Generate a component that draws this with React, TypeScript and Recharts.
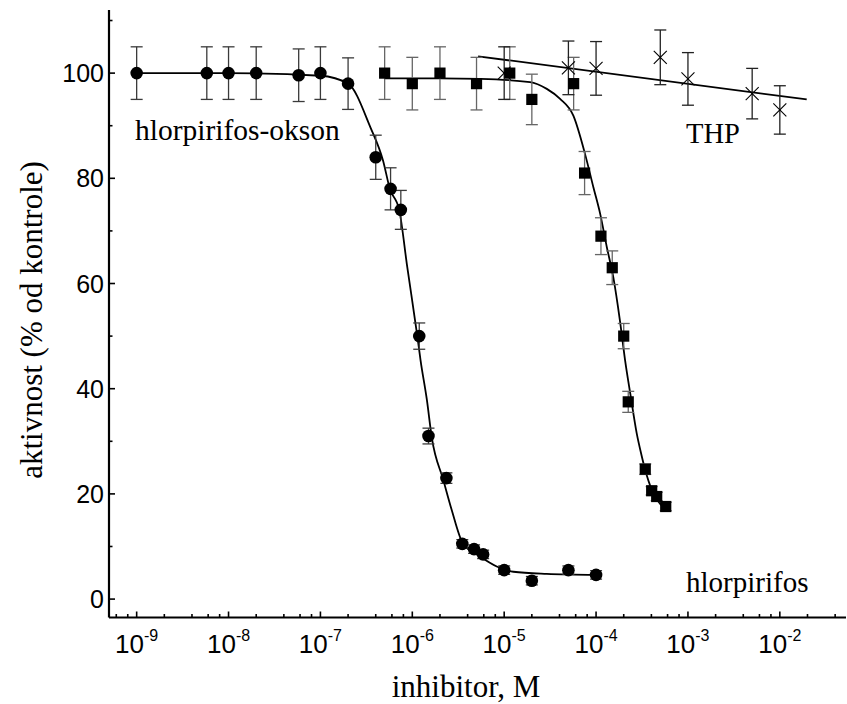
import React from "react";
import { ComposedChart, Scatter, Line, XAxis, YAxis, ErrorBar } from "recharts";

// hlorpirifos-okson (circles)
const oksonX = [1e-9, 5.8e-9, 1e-8, 2e-8, 5.8e-8, 1e-7, 2e-7, 4e-7, 5.8e-7, 7.5e-7, 1.19e-6, 1.5e-6, 2.35e-6, 3.5e-6, 4.7e-6, 5.9e-6, 1e-5, 2e-5, 5e-5, 1e-4];
const oksonY = [100, 100, 100, 100, 99.6, 100, 98, 84, 78, 74, 50, 31, 23, 10.5, 9.5, 8.5, 5.5, 3.5, 5.5, 4.6];
const oksonErr = [5, 5, 5, 5, 5, 5, 4.9, 4.2, 4, 3.7, 2.5, 1.5, 1, 0.8, 0.8, 0.8, 0.8, 0.8, 0.8, 0.8];

// hlorpirifos (squares)
const hlorX = [5e-7, 1e-6, 2e-6, 5e-6, 1.15e-5, 2e-5, 5.7e-5, 7.5e-5, 1.13e-4, 1.5e-4, 2e-4, 2.24e-4, 3.43e-4, 4.03e-4, 4.57e-4, 5.73e-4];
const hlorY = [100, 98, 100, 98, 100, 95, 98, 81, 69, 63, 50, 37.5, 24.7, 20.6, 19.5, 17.6];
const hlorErr = [5, 5, 5, 5, 5, 4.8, 5, 4.1, 3.5, 3.2, 2.4, 2, 1, 0.8, 0.8, 0.8];

// THP (crosses)
const thpX = [1e-5, 5e-5, 1e-4, 5e-4, 1e-3, 5e-3, 1e-2];
const thpY = [100, 101, 100.9, 103, 98.9, 96.1, 93];
const thpErr = [5, 5.1, 5.1, 5.2, 5, 4.8, 4.6];

// fitted curves
const oksonFitX = [1e-9, 1e-8, 1e-7, 2e-7, 3.5e-7, 4.8e-7, 5.7e-7, 7.2e-7, 8.8e-7, 1.14e-6, 1.23e-6, 1.44e-6, 1.63e-6, 2.18e-6, 2.69e-6, 3.55e-6, 5.47e-6, 8.3e-6, 1.26e-5, 2.9e-5, 1e-4];
const oksonFitY = [100, 100, 99.5, 98, 89.7, 83.4, 78, 74, 63.2, 49.7, 45.4, 37.9, 30.7, 22.6, 16.9, 10.6, 8.1, 6.2, 5.2, 4.8, 4.6];

const hlorFitX = [5e-7, 2e-6, 5.5e-6, 1.91e-5, 2.91e-5, 4.06e-5, 5.66e-5, 7.59e-5, 9.35e-5, 1.11e-4, 1.31e-4, 1.54e-4, 1.82e-4, 2.07e-4, 2.36e-4, 2.77e-4, 3.11e-4, 3.41e-4, 4.04e-4, 4.57e-4, 5.64e-4];
const hlorFitY = [99, 99, 98.9, 98.3, 97, 95.1, 91.9, 84.6, 78.3, 73.2, 66.9, 61.2, 52.9, 45.4, 39, 31.5, 27.5, 24.7, 20.8, 19, 17.2];

const thpFitX = [5.2e-6, 1.96e-2];
const thpFitY = [103.2, 95];

const xMajor = [1e-9, 1e-8, 1e-7, 1e-6, 1e-5, 1e-4, 1e-3, 1e-2];
const xMinorMult = [2, 4, 6, 8];
const yTicks = [0, 10, 20, 30, 40, 50, 60, 70, 80, 90, 100, 110];

const W = 847;
const H = 704;
const TOP = 10;
const LEFT = 109;
const XAXIS_H = 86.5;
const AXIS_Y = H - XAXIS_H;

const zip = (xs: number[], ys: number[], es?: number[]) =>
  xs.map((x, i) => ({ x, y: ys[i], e: es ? es[i] : 0 }));

const okson = zip(oksonX, oksonY, oksonErr);
const hlor = zip(hlorX, hlorY, hlorErr);
const thp = zip(thpX, thpY, thpErr);
const oksonFit = zip(oksonFitX, oksonFitY);
const hlorFit = zip(hlorFitX, hlorFitY);
const thpFit = zip(thpFitX, thpFitY);

const xTicks = [
  5e-10, 6e-10, 8e-10,
  ...xMajor.flatMap((m) => [m, ...xMinorMult.map((k) => k * m)]),
].filter((v) => v <= 0.05);

const sans = "'Liberation Sans', Arial, sans-serif";
const serif = "'Liberation Serif', 'Times New Roman', serif";

const XTick = (props: any) => {
  const { x, payload } = props;
  const lg = Math.log10(payload.value);
  const exp = Math.round(lg);
  const major = Math.abs(lg - exp) < 1e-6;
  if (payload.value < 6e-10) return null;
  return (
    <g>
      <line x1={x} x2={x} y1={AXIS_Y} y2={AXIS_Y - (major ? 6 : 3.5)} stroke="#000" strokeWidth={1.6} />
      {major && (
        <text x={x} y={AXIS_Y + 35} textAnchor="middle" fontFamily={sans} fontSize={26} fill="#000">
          10
          <tspan dy={-12} fontSize={16}>{exp}</tspan>
        </text>
      )}
    </g>
  );
};

const YTick = (props: any) => {
  const { y, payload } = props;
  const v = payload.value;
  const major = v % 20 === 0;
  return (
    <g>
      <line x1={LEFT} x2={LEFT + (major ? 6 : 3.5)} y1={y} y2={y} stroke="#000" strokeWidth={1.6} />
      {major && (
        <text x={LEFT - 5} y={y} dy="0.36em" textAnchor="end" fontFamily={sans} fontSize={25} fill="#000">
          {v}
        </text>
      )}
    </g>
  );
};

const Dot = (p: any) => <circle cx={p.cx} cy={p.cy} r={6.3} fill="#000" />;
const Square = (p: any) => <rect x={p.cx - 5.6} y={p.cy - 5.6} width={11.2} height={11.2} fill="#000" />;
const Cross = (p: any) => (
  <g stroke="#000" strokeWidth={1.1}>
    <line x1={p.cx - 6.5} y1={p.cy - 6.5} x2={p.cx + 6.5} y2={p.cy + 6.5} />
    <line x1={p.cx - 6.5} y1={p.cy + 6.5} x2={p.cx + 6.5} y2={p.cy - 6.5} />
  </g>
);

export default function App() {
  return (
    <div style={{ position: "relative", width: W, height: H }}>
      <style>{`body{margin:0;background:#fff}`}</style>
      <ComposedChart width={W} height={H} margin={{ top: TOP, right: 1, left: 0, bottom: 0 }}>
        <XAxis
          type="number"
          dataKey="x"
          scale="log"
          domain={[5e-10, 0.0525]}
          allowDataOverflow
          ticks={xTicks}
          interval={0}
          height={XAXIS_H}
          tickLine={false}
          axisLine={{ stroke: "#000", strokeWidth: 2.2 }}
          tick={<XTick />}
        />
        <YAxis
          type="number"
          dataKey="y"
          domain={[-3.5, 112]}
          allowDataOverflow
          ticks={yTicks}
          interval={0}
          width={LEFT}
          tickLine={false}
          axisLine={{ stroke: "#000", strokeWidth: 2.2 }}
          tick={<YTick />}
        />
        <Line data={oksonFit} dataKey="y" type="monotone" stroke="#000" strokeWidth={1.8} dot={false} activeDot={false} isAnimationActive={false} />
        <Line data={hlorFit} dataKey="y" type="monotone" stroke="#000" strokeWidth={1.8} dot={false} activeDot={false} isAnimationActive={false} />
        <Line data={thpFit} dataKey="y" type="linear" stroke="#000" strokeWidth={1.8} dot={false} activeDot={false} isAnimationActive={false} />
        <Scatter data={okson} dataKey="y" shape={<Dot />} isAnimationActive={false}>
          <ErrorBar dataKey="e" direction="y" width={6} stroke="#3a3a3a" strokeWidth={1.3} />
        </Scatter>
        <Scatter data={hlor} dataKey="y" shape={<Square />} isAnimationActive={false}>
          <ErrorBar dataKey="e" direction="y" width={6} stroke="#666" strokeWidth={1.3} />
        </Scatter>
        <Scatter data={thp} dataKey="y" shape={<Cross />} isAnimationActive={false}>
          <ErrorBar dataKey="e" direction="y" width={6} stroke="#222" strokeWidth={1.3} />
        </Scatter>
      </ComposedChart>
      <svg width={W} height={H} style={{ position: "absolute", left: 0, top: 0, pointerEvents: "none" }}>
        <text x={135} y={140} fontFamily={serif} fontSize={29.5} fill="#000">hlorpirifos-okson</text>
        <text x={686} y={143} fontFamily={serif} fontSize={28.5} fill="#000">THP</text>
        <text x={686} y={592} fontFamily={serif} fontSize={29} fill="#000">hlorpirifos</text>
        <text x={466} y={697} textAnchor="middle" fontFamily={serif} fontSize={31} fill="#000">inhibitor, M</text>
        <text x={42} y={320} textAnchor="middle" transform="rotate(-90 42 320)" fontFamily={serif} fontSize={31} fill="#000">
          aktivnost (% od kontrole)
        </text>
      </svg>
    </div>
  );
}
